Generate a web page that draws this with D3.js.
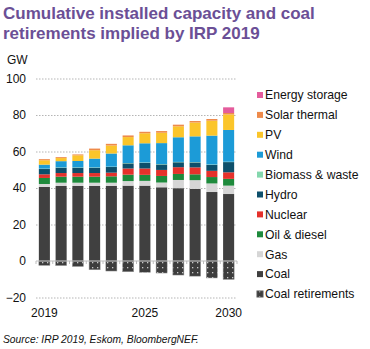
<!DOCTYPE html>
<html>
<head>
<meta charset="utf-8">
<script src="https://cdn.jsdelivr.net/npm/d3@7"></script>
<style>
  body { margin: 0; background: #fff; }
  svg { display: block; font-family: "Liberation Sans", Arial, sans-serif; }
</style>
</head>
<body>
<div id="chart"></div>
<script>
// Chart size
const svgWidth = 370;
const svgHeight = 349;

// Data (GW)
const years = [2019, 2020, 2021, 2022, 2023, 2024, 2025, 2026, 2027, 2028, 2029, 2030];
const coal = [40.6, 41.1, 41.1, 41.1, 41.1, 41.3, 41.3, 40.4, 39.9, 39.5, 37.8, 36.7];
const gas = [1.6, 1.8, 1.8, 1.8, 1.8, 2.5, 2.6, 2.6, 4.5, 4.8, 4.7, 4.6];
const oilDiesel = [3.3, 3.3, 3.3, 3.3, 3.5, 3.5, 3.3, 3.6, 3.3, 3.2, 3.5, 3.7];
const nuclear = [2.0, 2.0, 2.0, 2.0, 2.0, 3.4, 3.5, 3.3, 3.7, 3.8, 3.4, 3.6];
const hydro = [2.9, 2.9, 2.9, 2.9, 3.1, 2.8, 3.1, 3.0, 2.7, 2.7, 3.3, 5.6];
const biomass = [0.2, 0.2, 0.2, 0.2, 0.2, 0.2, 0.2, 0.2, 0.2, 0.2, 0.2, 0.2];
const wind = [2.2, 3.4, 3.5, 4.8, 7.2, 9.7, 10.5, 11.5, 13.5, 14.1, 15.8, 17.4];
const pv = [2.4, 1.7, 3.1, 4.6, 4.4, 4.5, 5.5, 5.7, 6.0, 7.6, 8.2, 8.5];
const solarThermal = [0.6, 0.5, 0.5, 0.9, 0.9, 0.9, 0.8, 0.9, 0.9, 0.8, 0.9, 0.8];
const storage = [0, 0, 0, 0, 0, 0, 0, 0, 0, 0, 0, 3.1];
const coalRetirements = [-2.4, -2.5, -3.0, -4.8, -5.5, -5.9, -6.2, -6.6, -7.7, -8.3, -9.3, -10.1];

const yTicks = [-20, 0, 20, 40, 60, 80, 100];
const xTickYears = [2019, 2025, 2030];

// Series, bottom to top
const series = [
  { key: "Coal", values: coal, color: "#404040" },
  { key: "Gas", values: gas, color: "#d6d6d6" },
  { key: "Oil & diesel", values: oilDiesel, color: "#1e8a3c" },
  { key: "Nuclear", values: nuclear, color: "#e5312b" },
  { key: "Hydro", values: hydro, color: "#0d4f6b" },
  { key: "Biomass & waste", values: biomass, color: "#84d7ad" },
  { key: "Wind", values: wind, color: "#1c9bd7" },
  { key: "PV", values: pv, color: "#fbc52a" },
  { key: "Solar thermal", values: solarThermal, color: "#ee8a4a" },
  { key: "Energy storage", values: storage, color: "#e45c9c" }
];

const table = years.map((yr, i) => {
  const row = { year: yr };
  series.forEach(s => { row[s.key] = s.values[i]; });
  return row;
});

const svg = d3.select("#chart")
  .append("svg")
  .attr("width", svgWidth)
  .attr("height", svgHeight);

// dotted pattern for coal retirements
const pat = svg.append("defs").append("pattern")
  .attr("id", "retire")
  .attr("patternUnits", "userSpaceOnUse")
  .attr("width", 5)
  .attr("height", 5);
pat.append("rect").attr("width", 5).attr("height", 5).attr("fill", "#3d3d3d");
pat.append("rect").attr("x", 2).attr("y", 2).attr("width", 1.3).attr("height", 1.3).attr("fill", "#c8c8c8");

// Scales
const x = d3.scaleBand()
  .domain(years)
  .range([36, 237])
  .paddingInner(0.34)
  .paddingOuter(0.17);

const y = d3.scaleLinear()
  .domain([-20, 100])
  .range([297.5, 78.5]);

// Title
svg.append("text")
  .attr("x", 3)
  .attr("y", 19)
  .attr("font-size", 17)
  .attr("font-weight", "bold")
  .attr("fill", "#6b4f96")
  .text("Cumulative installed capacity and coal");

svg.append("text")
  .attr("x", 3)
  .attr("y", 39)
  .attr("font-size", 17)
  .attr("font-weight", "bold")
  .attr("fill", "#6b4f96")
  .text("retirements implied by IRP 2019");

svg.append("text")
  .attr("x", 7)
  .attr("y", 64)
  .attr("font-size", 12)
  .attr("fill", "#111")
  .text("GW");

// Gridlines
svg.append("g")
  .attr("transform", "translate(36,0)")
  .call(d3.axisLeft(y).tickValues(yTicks.filter(d => d !== 0)).tickSize(-201).tickFormat(""))
  .call(g => g.select(".domain").remove())
  .call(g => g.selectAll("line")
    .attr("stroke", "#b5b5b5")
    .attr("stroke-dasharray", "1.5,1.5"));

// Y labels
svg.append("g")
  .attr("transform", "translate(26,0)")
  .call(d3.axisLeft(y).tickValues(yTicks).tickSize(0).tickPadding(0))
  .call(g => g.select(".domain").remove())
  .call(g => g.selectAll("text")
    .attr("font-size", 12)
    .attr("font-family", "Liberation Sans, Arial, sans-serif")
    .attr("fill", "#111"));

// Stacked bars
const stack = d3.stack().keys(series.map(s => s.key));
const layers = stack(table);

svg.append("g")
  .selectAll("g")
  .data(layers)
  .join("g")
  .attr("fill", (d, i) => series[i].color)
  .selectAll("rect")
  .data(d => d)
  .join("rect")
  .attr("x", d => x(d.data.year))
  .attr("y", d => y(d[1]))
  .attr("width", x.bandwidth())
  .attr("height", d => y(d[0]) - y(d[1]));

// Coal retirements below zero
svg.append("g")
  .selectAll("rect")
  .data(years)
  .join("rect")
  .attr("x", (d) => x(d))
  .attr("y", y(0))
  .attr("width", x.bandwidth())
  .attr("height", (d, i) => y(coalRetirements[i]) - y(0))
  .attr("fill", "url(#retire)")
  .attr("stroke", "#9a9a9a")
  .attr("stroke-width", 0.5);

// Zero line with small ticks
const zeroAxis = svg.append("g")
  .attr("transform", `translate(0,${y(0)})`);
zeroAxis.append("line")
  .attr("x1", 36).attr("x2", 237)
  .attr("stroke", "#bdbdbd");
zeroAxis.selectAll(".tk")
  .data(years.concat([null]))
  .join("line")
  .attr("class", "tk")
  .attr("x1", (d, i) => 36 + i * x.step())
  .attr("x2", (d, i) => 36 + i * x.step())
  .attr("y1", 0).attr("y2", 3)
  .attr("stroke", "#bdbdbd");

// X labels
svg.append("g")
  .attr("transform", "translate(0,308)")
  .call(d3.axisBottom(x).tickValues(xTickYears).tickSize(0).tickPadding(0))
  .call(g => g.select(".domain").remove())
  .call(g => g.selectAll("text")
    .attr("font-size", 12)
    .attr("font-family", "Liberation Sans, Arial, sans-serif")
    .attr("fill", "#111"));

// Legend
const legendItems = series.slice().reverse()
  .map(s => ({ key: s.key, fill: s.color }))
  .concat([{ key: "Coal retirements", fill: "url(#retire)" }]);

const legend = svg.append("g")
  .selectAll("g")
  .data(legendItems)
  .join("g")
  .attr("transform", (d, i) => `translate(257,${95 + i * 19.9})`);

legend.append("rect")
  .attr("x", 0)
  .attr("y", -3)
  .attr("width", 6)
  .attr("height", 6)
  .attr("fill", d => d.fill)
  .attr("stroke", d => d.key === "Coal retirements" ? "#555" : "none")
  .attr("stroke-width", 1);

legend.append("text")
  .attr("x", 8)
  .attr("y", 4.3)
  .attr("font-size", 12.2)
  .attr("fill", "#111")
  .text(d => d.key);

// Source
svg.append("text")
  .attr("x", 3)
  .attr("y", 343)
  .attr("font-size", 10.3)
  .attr("font-style", "italic")
  .attr("fill", "#111")
  .text("Source: IRP 2019, Eskom, BloombergNEF.");
</script>
</body>
</html>
